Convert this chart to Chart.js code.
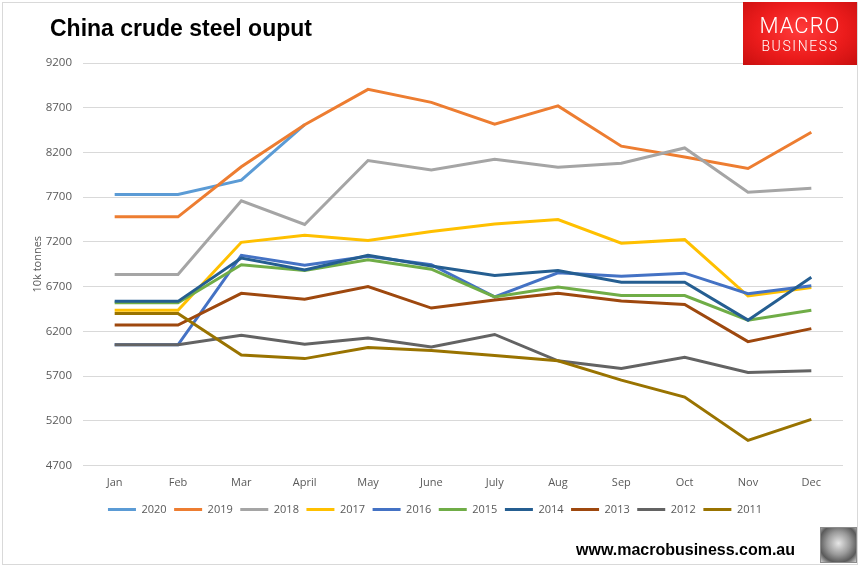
<!DOCTYPE html>
<html>
<head>
<meta charset="utf-8">
<script src="https://cdn.jsdelivr.net/npm/chart.js@4.4.1/dist/chart.umd.min.js"></script>
<style>
    html, body { margin: 0; padding: 0; background: #ffffff; }
    #wrap { position: relative; width: 859px; height: 566px; overflow: hidden; }
    #frame { position: absolute; left: 2px; top: 2px; width: 856px; height: 563px; box-sizing: border-box; border: 1px solid #d9d9d9; }
    #chart { position: absolute; left: 0; top: 0; }
    #title { position: absolute; left: 50px; top: 16px; font: bold 23px 'Liberation Sans', Arial, sans-serif; line-height: 24px; color: #000; }
    #logo { position: absolute; left: 743px; top: 2px; width: 114px; height: 63px;
            background: radial-gradient(ellipse at 50% 45%, #ff3b3b 0%, #ec1c1c 55%, #c80f0f 100%);
            color: #fff; font-family: Roboto, 'Liberation Sans', sans-serif; text-align: center; }
    #logo .l1 { position: absolute; left: 0; width: 114px; top: 13px; font-size: 22px; font-weight: 300; letter-spacing: 1px; line-height: 22px; }
    #logo .l2 { position: absolute; left: 0; width: 114px; top: 37px; font-size: 14px; font-weight: 300; letter-spacing: 1.6px; line-height: 14px; }
    #site { position: absolute; left: 576px; top: 541px; font: bold 16px 'Liberation Sans', Arial, sans-serif; line-height: 18px; color: #000; }
    #wolf { position: absolute; left: 820px; top: 527px; width: 37px; height: 36px; box-sizing: border-box; border: 1px solid #8c8c8c;
            background: radial-gradient(circle at 50% 45%, #e6e6e6 0%, #9a9a9a 45%, #5a5a5a 75%, #d0d0d0 100%); }
</style>
</head>
<body>
<div id="wrap">
    <div id="frame"></div>
    <canvas id="chart" width="859" height="566"></canvas>
    <div id="title">China crude steel ouput</div>
    <div id="logo"><div class="l1">MACRO</div><div class="l2">BUSINESS</div></div>
    <div id="site">www.macrobusiness.com.au</div>
    <div id="wolf"></div>
</div>
<script>
// ─── DATA ────────────────────────────────────────────────────
const months = ['Jan', 'Feb', 'Mar', 'April', 'May', 'June', 'July', 'Aug', 'Sep', 'Oct', 'Nov', 'Dec'];
const yTicks = [4700, 5200, 5700, 6200, 6700, 7200, 7700, 8200, 8700, 9200];

const y2020 = [7730, 7730, 7890, 8510, null, null, null, null, null, null, null, null];
const y2019 = [7480, 7480, 8040, 8510, 8905, 8760, 8515, 8720, 8270, 8150, 8020, 8425];
const y2018 = [6835, 6835, 7660, 7395, 8110, 8005, 8125, 8035, 8080, 8250, 7755, 7800];
const y2017 = [6435, 6435, 7195, 7275, 7215, 7315, 7400, 7450, 7185, 7225, 6595, 6690];
const y2016 = [6050, 6050, 7050, 6940, 7040, 6945, 6585, 6855, 6815, 6850, 6620, 6710];
const y2015 = [6520, 6520, 6945, 6880, 7000, 6895, 6585, 6695, 6600, 6600, 6325, 6435];
const y2014 = [6535, 6535, 7020, 6885, 7050, 6930, 6825, 6880, 6750, 6750, 6325, 6805];
const y2013 = [6270, 6270, 6625, 6560, 6700, 6460, 6550, 6625, 6540, 6500, 6085, 6230];
const y2012 = [6050, 6050, 6155, 6055, 6125, 6025, 6165, 5870, 5785, 5910, 5740, 5760];
const y2011 = [6400, 6400, 5935, 5895, 6020, 5985, 5930, 5870, 5655, 5465, 4980, 5215];

const seriesNames = ['2020', '2019', '2018', '2017', '2016', '2015', '2014', '2013', '2012', '2011'];
const seriesData = [y2020, y2019, y2018, y2017, y2016, y2015, y2014, y2013, y2012, y2011];
const seriesColors = ['#5B9BD5', '#ED7D31', '#A5A5A5', '#FFC000', '#4472C4', '#70AD47', '#255E91', '#9E480E', '#636363', '#997300'];

const tickColor = '#595959';
const gridColor = '#d9d9d9';

// Later years drawn on top (like Excel), legend kept in original order
const datasets = seriesNames.map((name, i) => ({
    label: name,
    data: seriesData[i],
    borderColor: seriesColors[i],
    backgroundColor: seriesColors[i],
    borderWidth: 3,
    pointRadius: 0,
    pointHoverRadius: 0,
    tension: 0,
    order: -i
}));

new Chart(document.getElementById('chart'), {
    type: 'line',
    data: { labels: months, datasets },
    options: {
        responsive: false,
        animation: false,
        layout: { padding: { left: 27, right: 16, top: 63, bottom: 41 } },
        plugins: {
            tooltip: { enabled: false },
            title: { display: false },
            legend: {
                position: 'bottom',
                labels: {
                    usePointStyle: true,
                    pointStyle: 'line',
                    pointStyleWidth: 28,
                    boxHeight: 11,
                    padding: 7.5,
                    color: tickColor,
                    font: { family: "'Open Sans', sans-serif", size: 11 },
                    sort: (a, b) => a.datasetIndex - b.datasetIndex
                }
            }
        },
        scales: {
            x: {
                offset: true,
                grid: { display: false, drawTicks: false },
                border: { display: false },
                ticks: { color: tickColor, padding: 11, font: { family: "'Open Sans', sans-serif", size: 11 } },
                afterFit: s => { s.height = 31; }
            },
            y: {
                min: 4700,
                max: 9200,
                afterBuildTicks: s => { s.ticks = yTicks.map(v => ({ value: v })); },
                grid: { color: gridColor, lineWidth: 1, drawTicks: false },
                border: { display: false },
                ticks: {
                    color: tickColor,
                    padding: 11,
                    font: { family: "'Open Sans', sans-serif", size: 11.5 },
                    callback: v => String(v)
                },
                title: {
                    display: true,
                    text: '10k tonnes',
                    color: tickColor,
                    font: { family: "'Open Sans', sans-serif", size: 11 }
                },
                afterFit: s => { s.width = 56; }
            }
        }
    }
});
</script>
</body>
</html>
